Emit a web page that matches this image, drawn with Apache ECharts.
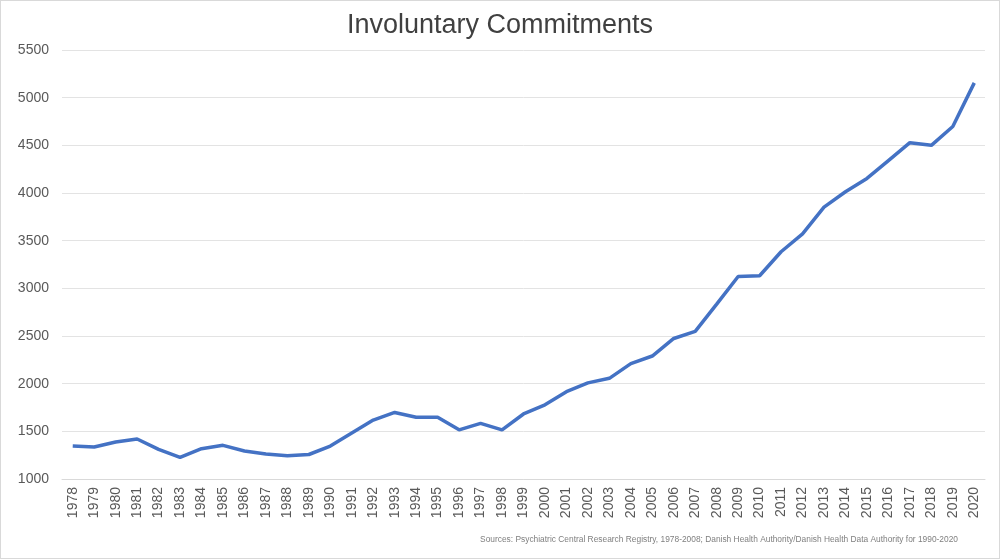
<!DOCTYPE html>
<html lang="en">
<head>
	<meta charset="UTF-8">
	<title>Involuntary Commitments</title>
	<style>
		html, body { margin: 0; padding: 0; background: #fff; }
		#main { width: 998px; height: 557px; border: 1px solid #d9d9d9; }
	</style>
</head>
<body>
	<div id="main"></div>
	<script src="https://cdn.jsdelivr.net/npm/echarts@6/dist/echarts.min.js"></script>
	<script>
		// years on the x axis
		var years = ['1978', '1979', '1980', '1981', '1982', '1983', '1984', '1985', '1986', '1987',
			'1988', '1989', '1990', '1991', '1992', '1993', '1994', '1995', '1996', '1997',
			'1998', '1999', '2000', '2001', '2002', '2003', '2004', '2005', '2006', '2007',
			'2008', '2009', '2010', '2011', '2012', '2013', '2014', '2015', '2016', '2017',
			'2018', '2019', '2020'];

		// number of involuntary commitments per year
		var commitments = [1346, 1336, 1388, 1420, 1311, 1226, 1318, 1353, 1294, 1262,
			1243, 1257, 1346, 1482, 1618, 1698, 1647, 1647, 1516, 1584,
			1515, 1682, 1778, 1916, 2008, 2056, 2210, 2290, 2474, 2548,
			2835, 3124, 3132, 3384, 3572, 3852, 4013, 4153, 4340, 4528,
			4500, 4697, 5155];

		// y axis ticks
		var yMin = 1000;
		var yMax = 5500;
		var yStep = 500;

		var titleText = 'Involuntary Commitments';
		var sourceText = 'Sources: Psychiatric Central Research Registry, 1978-2008; Danish Health Authority/Danish Health Data Authority for 1990-2020';

		var myChart = echarts.init(document.getElementById('main'));
		var option = {
			textStyle: { fontFamily: 'Liberation Sans, Arial, sans-serif' },
			title: {
				text: titleText,
				left: 'center',
				top: 6,
				textStyle: { fontSize: 27, fontWeight: 'normal', color: '#404040' }
			},
			grid: { left: 61, right: 14, top: 49, bottom: 79, containLabel: false },
			xAxis: {
				type: 'category',
				data: years,
				boundaryGap: true,
				axisLine: { lineStyle: { color: '#d9d9d9' } },
				axisTick: { show: false },
				axisLabel: { rotate: 90, interval: 0, margin: 8, fontSize: 14, color: '#595959' }
			},
			yAxis: {
				type: 'value',
				min: yMin,
				max: yMax,
				interval: yStep,
				axisLine: { show: false },
				axisTick: { show: false },
				axisLabel: {
					margin: 13,
					fontSize: 14,
					color: '#595959',
					formatter: function (v) { return String(v); }
				},
				splitLine: { lineStyle: { color: '#e3e3e3' } }
			},
			graphic: [{
				type: 'text',
				right: 41,
				top: 535,
				style: { text: sourceText, fontSize: 8.4, fill: '#7f7f7f', fontFamily: 'Liberation Sans, Arial, sans-serif' }
			}],
			series: [{
				name: titleText,
				type: 'line',
				data: commitments,
				symbol: 'none',
				lineStyle: { color: '#4472C4', width: 3.5 },
				itemStyle: { color: '#4472C4' }
			}]
		};
		myChart.setOption(option);
	</script>
</body>
</html>
